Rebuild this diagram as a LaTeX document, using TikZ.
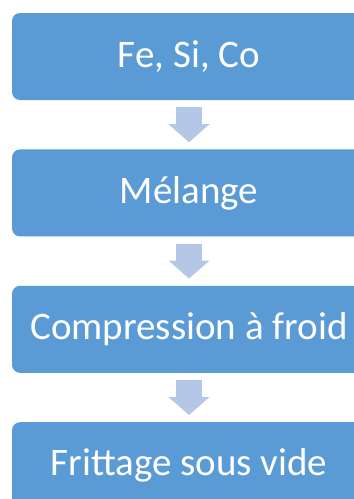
\documentclass[tikz,border=0pt]{standalone}
\usepackage{fontspec}
\setmainfont{Carlito}
\usepackage{tikz}
\usetikzlibrary{arrows.meta,calc,positioning}
\definecolor{stepblue}{RGB}{91,155,213}
\definecolor{arrowblue}{RGB}{180,199,231}

\begin{document}
\begin{tikzpicture}[x=1pt,y=1pt,
    stepbox/.style={fill=stepblue,rounded corners=8pt,minimum width=354pt,
        minimum height=87pt,inner sep=0pt,text=white,font=\fontsize{39}{39}\selectfont},
    flow/.style={draw=arrowblue,line width=26pt,
        -{Triangle[width=40pt,length=18pt,fill=arrowblue]}}]
    \useasboundingbox (0,0) rectangle (354,-499);
    \clip (0,0) rectangle (354,-499);
    \node[stepbox] (fesico) at (189,-56.5) {Fe, Si, Co};
    \node[stepbox,below=49pt of fesico] (melange) {Mélange};
    \node[stepbox,below=49pt of melange] (compression) {Compression à froid};
    \node[stepbox,below=49pt of compression] (frittage) {Frittage sous vide};
    \draw[flow] ($(fesico.south)+(0,-7)$) -- ($(melange.north)+(0,7)$);
    \draw[flow] ($(melange.south)+(0,-7)$) -- ($(compression.north)+(0,7)$);
    \draw[flow] ($(compression.south)+(0,-7)$) -- ($(frittage.north)+(0,7)$);
\end{tikzpicture}
\end{document}
